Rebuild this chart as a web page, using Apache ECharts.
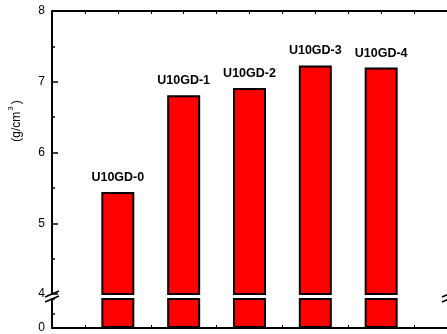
<!DOCTYPE html>
<html>
<head>
<meta charset="utf-8">
<script src="https://cdn.jsdelivr.net/npm/echarts@6/dist/echarts.min.js"></script>
<style>
  html, body { margin: 0; padding: 0; background: #fff; }
  #chart { width: 447px; height: 334px; }
</style>
</head>
<body>
<div id="chart"></div>
<script>
// Sample names and their densities (g/cm^3)
const samples = ['U10GD-0', 'U10GD-1', 'U10GD-2', 'U10GD-3', 'U10GD-4'];
const samplePositions = [1, 2, 3, 4, 5];
const densities = [5.44, 6.81, 6.91, 7.23, 7.20];

// Broken value axis: lower band and upper band
const lowerRange = [0, 4];
const upperRange = [4, 8];
const xRange = [0, 6];

const barData = samplePositions.map((x, i) => [x, densities[i]]);

const chart = echarts.init(document.getElementById('chart'), null, { renderer: 'canvas' });

const axisColor = '#000';
const fontFamily = '"Liberation Sans", Arial, sans-serif';
const barStyle = { color: '#ff0000', borderColor: '#000', borderWidth: 2 };

function xAxisFor(gridIndex, position) {
  return {
    type: 'value', gridIndex, position,
    min: xRange[0], max: xRange[1], interval: 0.5,
    axisLine: { show: true, onZero: false, lineStyle: { color: axisColor, width: 2 } },
    axisTick: { show: true, inside: true, length: 3, lineStyle: { color: axisColor, width: 1 } },
    axisLabel: { show: false },
    splitLine: { show: false }
  };
}

const option = {
  animation: false,
  backgroundColor: '#fff',
  grid: [
    { left: 52, right: -1, top: 11, bottom: 40 },
    { left: 52, right: -1, top: 299, bottom: 5 }
  ],
  xAxis: [xAxisFor(0, 'top'), xAxisFor(1, 'bottom')],
  yAxis: [
    {
      type: 'value', gridIndex: 0,
      min: upperRange[0], max: upperRange[1], interval: 1,
      axisLine: { show: true, onZero: false, lineStyle: { color: axisColor, width: 2 } },
      axisTick: { show: true, inside: true, length: 6, lineStyle: { color: axisColor, width: 1.5 } },
      minorTick: { show: true, splitNumber: 2, length: 3, lineStyle: { color: axisColor, width: 1.5 } },
      axisLabel: { color: '#000', fontSize: 12, fontFamily, margin: 7 },
      splitLine: { show: false }
    },
    {
      type: 'value', gridIndex: 1,
      min: lowerRange[0], max: lowerRange[1], interval: 2,
      axisLine: { show: true, onZero: false, lineStyle: { color: axisColor, width: 2 } },
      axisTick: { show: true, inside: true, length: 3, lineStyle: { color: axisColor, width: 1.5 } },
      axisLabel: {
        color: '#000', fontSize: 12, fontFamily, margin: 7,
        formatter: v => (v === lowerRange[0] ? String(v) : '')
      },
      splitLine: { show: false }
    }
  ],
  series: [
    {
      type: 'bar', xAxisIndex: 0, yAxisIndex: 0,
      data: barData, barWidth: 33, clip: true,
      itemStyle: barStyle,
      label: {
        show: true, position: 'top', distance: 8,
        color: '#000', fontSize: 12.5, fontWeight: 'bold', fontFamily,
        formatter: p => samples[p.dataIndex]
      }
    },
    {
      type: 'bar', xAxisIndex: 1, yAxisIndex: 1,
      data: barData, barWidth: 33, clip: true,
      itemStyle: barStyle
    }
  ],
  graphic: [
    {
      type: 'text', x: 15, y: 121, rotation: Math.PI / 2,
      style: {
        text: '{m|(g/cm}{s|3}{m|)}',
        fill: '#000',
        align: 'center', verticalAlign: 'middle',
        rich: {
          m: { fontSize: 12, fontFamily, fill: '#000', verticalAlign: 'bottom' },
          s: { fontSize: 8, fontFamily, fill: '#000', verticalAlign: 'bottom', padding: [0, 2, 8, 1] }
        }
      }
    },
    // axis break marks, left side
    { type: 'line', shape: { x1: 45, y1: 297, x2: 59, y2: 291 }, style: { stroke: '#000', lineWidth: 1.5 } },
    { type: 'line', shape: { x1: 45, y1: 302, x2: 59, y2: 296 }, style: { stroke: '#000', lineWidth: 1.5 } },
    // axis break marks, right side
    { type: 'line', shape: { x1: 442, y1: 297, x2: 456, y2: 291 }, style: { stroke: '#000', lineWidth: 1.5 } },
    { type: 'line', shape: { x1: 442, y1: 302, x2: 456, y2: 296 }, style: { stroke: '#000', lineWidth: 1.5 } }
  ]
};

chart.setOption(option);
</script>
</body>
</html>
